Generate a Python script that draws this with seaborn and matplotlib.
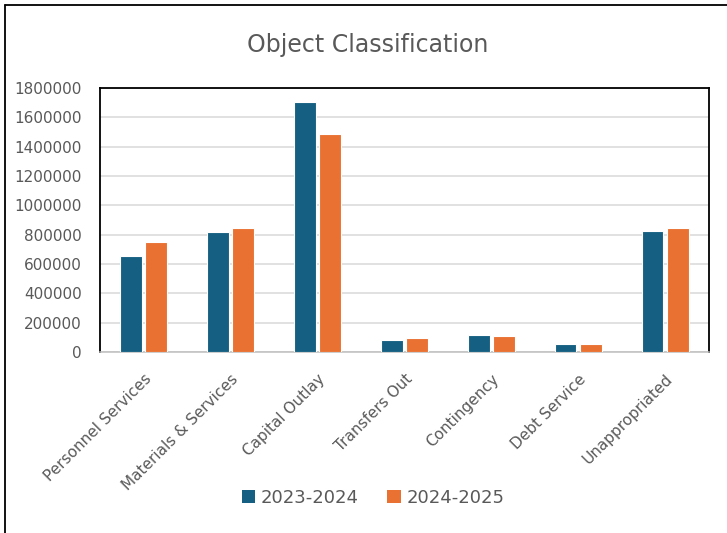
import pandas as pd
import matplotlib
matplotlib.use("Agg")
import matplotlib.pyplot as plt
import seaborn as sns
from matplotlib.lines import Line2D
from matplotlib.patches import Patch

# データ
categories = ["Personnel Services", "Materials & Services", "Capital Outlay",
              "Transfers Out", "Contingency", "Debt Service", "Unappropriated"]
years = ["2023-2024", "2024-2025"]
values_2023 = [655000, 818000, 1702000, 84000, 116000, 55000, 825000]
values_2024 = [752000, 845000, 1484000, 95000, 109000, 52000, 845000]
y_ticks = list(range(0, 1800001, 200000))

colors = ["#156082", "#E97132"]
text_color = "#595959"

df = pd.DataFrame({
    "category": categories * 2,
    "year": [years[0]] * len(categories) + [years[1]] * len(categories),
    "value": values_2023 + values_2024,
})

sns.set_style("white")
plt.rcParams['font.family'] = ['DejaVu Sans']

fig = plt.figure(figsize=(7.27, 5.33), dpi=100)
ax = fig.add_axes([0.1376, 0.3396, 0.975 - 0.1376, 0.835 - 0.3396])

sns.barplot(data=df, x="category", y="value", hue="year", palette=colors,
            saturation=1, width=0.58, gap=0.15, edgecolor="white", linewidth=0.8,
            ax=ax, legend=False, zorder=3)

ax.set_ylim(0, 1800000)
ax.set_xlim(-0.5, len(categories) - 0.5)
ax.set_yticks(y_ticks)
ax.set_yticklabels([str(v) for v in y_ticks])
ax.yaxis.grid(True, color="#d9d9d9", linewidth=1.1, zorder=0)
ax.set_axisbelow(True)
ax.set_xlabel("")
ax.set_ylabel("")

for side in ["left", "top", "right"]:
    ax.spines[side].set_color("black")
    ax.spines[side].set_linewidth(1.3)
ax.spines["bottom"].set_color("#bfbfbf")
ax.spines["bottom"].set_linewidth(1.1)

ax.tick_params(axis="y", length=0, pad=13, labelsize=11, labelcolor=text_color)
ax.tick_params(axis="x", length=0, pad=14, labelsize=11, labelcolor=text_color)
plt.setp(ax.get_xticklabels(), rotation=45, ha="right", rotation_mode="anchor")

# タイトル
fig.text(368 / 727, 1 - 45 / 533, "Object Classification", ha="center", va="center",
         fontsize=17, color=text_color)

# 凡例
handles = [Patch(facecolor=c, edgecolor="none") for c in colors]
fig.legend(handles, years, loc="center", bbox_to_anchor=(373 / 727, 1 - 498 / 533),
           ncol=2, frameon=False, fontsize=13, labelcolor=text_color,
           handlelength=0.75, handleheight=0.75, handletextpad=0.3, columnspacing=1.6)

# 外枠
fig.add_artist(Line2D([5 / 727, 5 / 727], [0, 1 - 5 / 533], color="black", linewidth=1.3,
                      transform=fig.transFigure))
fig.add_artist(Line2D([5 / 727, 1], [1 - 5 / 533, 1 - 5 / 533], color="black", linewidth=1.3,
                      transform=fig.transFigure))

fig.savefig("out.png", dpi=100, facecolor="white")
plt.close()
